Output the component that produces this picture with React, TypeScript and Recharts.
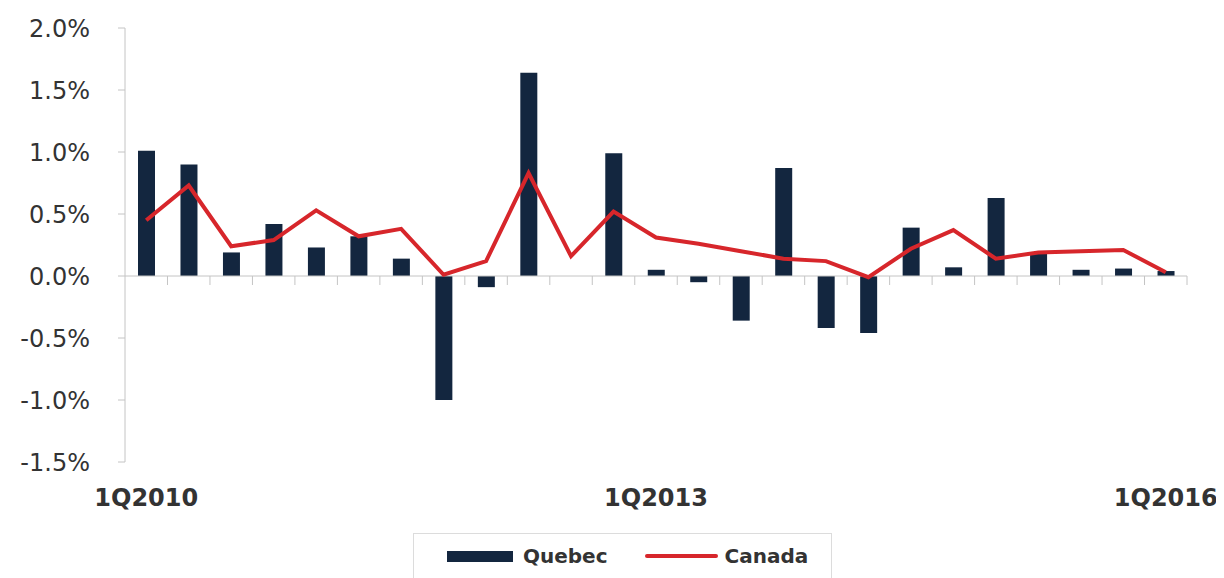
import { ComposedChart, Bar, Line, XAxis, YAxis, ReferenceLine, Legend } from "recharts"

const quarters = [
  "1Q2010", "2Q2010", "3Q2010", "4Q2010",
  "1Q2011", "2Q2011", "3Q2011", "4Q2011",
  "1Q2012", "2Q2012", "3Q2012", "4Q2012",
  "1Q2013", "2Q2013", "3Q2013", "4Q2013",
  "1Q2014", "2Q2014", "3Q2014", "4Q2014",
  "1Q2015", "2Q2015", "3Q2015", "4Q2015",
  "1Q2016",
]

const quebec = [
  1.01, 0.9, 0.19, 0.42, 0.23, 0.32, 0.14, -1.0, -0.09, 1.64, 0.0, 0.99,
  0.05, -0.05, -0.36, 0.87, -0.42, -0.46, 0.39, 0.07, 0.63, 0.18, 0.05, 0.06, 0.04,
]

const canada = [
  0.45, 0.73, 0.24, 0.29, 0.53, 0.32, 0.38, 0.01, 0.12, 0.83, 0.16, 0.52,
  0.31, 0.26, 0.2, 0.14, 0.12, -0.01, 0.22, 0.37, 0.14, 0.19, 0.2, 0.21, 0.03,
]

const yTicks = [-1.5, -1.0, -0.5, 0, 0.5, 1.0, 1.5, 2.0]
const labelEvery = 12

const data = quarters.map((q, i) => ({ q, quebec: quebec[i], canada: canada[i] }))

const W = 1216
const H = 570
const PLOT_W = 1062
const PLOT_H = 434
const Y_MIN = -1.5
const Y_MAX = 2.0
const FONT = "'DejaVu Sans', sans-serif"
const NAVY = "#13263f"
const RED = "#d7262b"
const GRAY = "#c4c4c4"

const QuarterTick = ({ x, y, index, payload }: any) => {
  const band = PLOT_W / quarters.length
  const zeroY = y - (PLOT_H * (0 - Y_MIN)) / (Y_MAX - Y_MIN)
  return (
    <g>
      <line x1={x + band / 2} x2={x + band / 2} y1={zeroY} y2={zeroY + 9} stroke={GRAY} strokeWidth={1} />
      {index % labelEvery === 0 && (
        <text
          x={x}
          y={y + 36}
          textAnchor="middle"
          dominantBaseline="central"
          fontFamily={FONT}
          fontWeight="bold"
          fontSize={24}
          fill="#333"
        >
          {payload.value}
        </text>
      )}
    </g>
  )
}

const LegendBox = () => (
  <div style={{ height: 66, paddingTop: 21, boxSizing: "border-box" }}>
    <div
      style={{
        marginLeft: 405,
        width: 419,
        height: 50,
        border: "1px solid #dcdcdc",
        boxSizing: "border-box",
        display: "flex",
        alignItems: "center",
        paddingLeft: 33,
        paddingBottom: 4,
        fontFamily: FONT,
        fontWeight: "bold",
        fontSize: 20,
        color: "#333",
      }}
    >
      <span style={{ display: "inline-block", width: 66, height: 11, background: NAVY }} />
      <span style={{ marginLeft: 10 }}>Quebec</span>
      <span style={{ display: "inline-block", width: 73, height: 4, background: RED, marginLeft: 37, borderRadius: 2 }} />
      <span style={{ marginLeft: 7 }}>Canada</span>
    </div>
  </div>
)

export default function App() {
  return (
    <ComposedChart width={W} height={H} data={data} margin={{ top: 20, right: 37, left: 0, bottom: 0 }}>
      <XAxis
        dataKey="q"
        interval={0}
        axisLine={false}
        tickLine={false}
        tickSize={0}
        tickMargin={0}
        height={50}
        tick={<QuarterTick />}
      />
      <YAxis
        domain={[Y_MIN, Y_MAX]}
        ticks={yTicks}
        width={117}
        stroke={GRAY}
        tickSize={7}
        tickMargin={28}
        tickLine={{ stroke: GRAY }}
        axisLine={{ stroke: GRAY }}
        tickFormatter={(v: number) => `${v.toFixed(1)}%`}
        tick={{ fontFamily: FONT, fontSize: 24, fill: "#333" }}
      />
      <ReferenceLine y={0} stroke={GRAY} strokeWidth={1} />
      <Legend
        verticalAlign="bottom"
        wrapperStyle={{ left: 0, width: W }}
        content={<LegendBox />}
      />
      <Bar dataKey="quebec" name="Quebec" fill={NAVY} barSize={17} isAnimationActive={false} />
      <Line
        type="linear"
        dataKey="canada"
        name="Canada"
        stroke={RED}
        strokeWidth={4}
        dot={false}
        isAnimationActive={false}
      />
    </ComposedChart>
  )
}
